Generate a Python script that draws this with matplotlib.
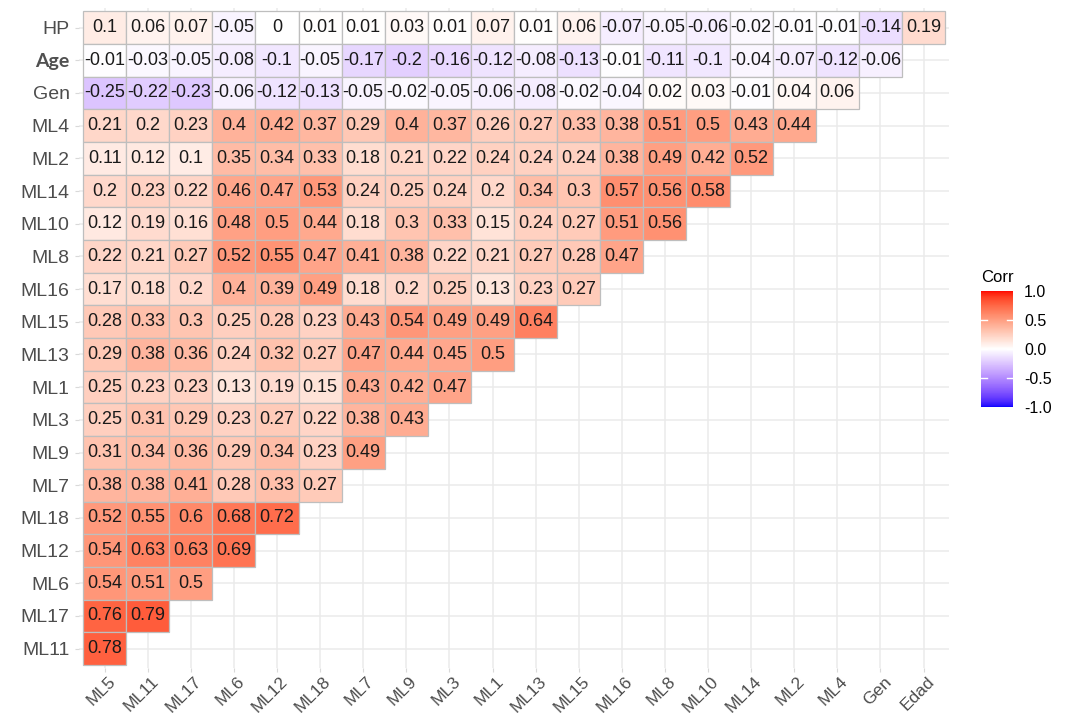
import numpy as np
import matplotlib
matplotlib.use("Agg")
import matplotlib.pyplot as plt
import matplotlib.transforms as mtransforms
from matplotlib.colors import ListedColormap, Normalize
from matplotlib.patches import Rectangle
from matplotlib.cm import ScalarMappable
from matplotlib.font_manager import FontProperties

plt.rcParams['font.family'] = ['Liberation Sans', 'DejaVu Sans']

# column order (left to right) and row order (top to bottom)
col_labels = ["ML5", "ML11", "ML17", "ML6", "ML12", "ML18", "ML7", "ML9", "ML3", "ML1",
              "ML13", "ML15", "ML16", "ML8", "ML10", "ML14", "ML2", "ML4", "Gen", "Edad"]
row_labels = ["HP", "Age", "Gen", "ML4", "ML2", "ML14", "ML10", "ML8", "ML16", "ML15",
              "ML13", "ML1", "ML3", "ML9", "ML7", "ML18", "ML12", "ML6", "ML17", "ML11"]

hp = [0.1, 0.06, 0.07, -0.05, 0, 0.01, 0.01, 0.03, 0.01, 0.07,
      0.01, 0.06, -0.07, -0.05, -0.06, -0.02, -0.01, -0.01, -0.14, 0.19]
age = [-0.01, -0.03, -0.05, -0.08, -0.1, -0.05, -0.17, -0.2, -0.16, -0.12,
       -0.08, -0.13, -0.01, -0.11, -0.1, -0.04, -0.07, -0.12, -0.06]
gen = [-0.25, -0.22, -0.23, -0.06, -0.12, -0.13, -0.05, -0.02, -0.05, -0.06,
       -0.08, -0.02, -0.04, 0.02, 0.03, -0.01, 0.04, 0.06]
ml4 = [0.21, 0.2, 0.23, 0.4, 0.42, 0.37, 0.29, 0.4, 0.37, 0.26, 0.27, 0.33, 0.38, 0.51, 0.5, 0.43, 0.44]
ml2 = [0.11, 0.12, 0.1, 0.35, 0.34, 0.33, 0.18, 0.21, 0.22, 0.24, 0.24, 0.24, 0.38, 0.49, 0.42, 0.52]
ml14 = [0.2, 0.23, 0.22, 0.46, 0.47, 0.53, 0.24, 0.25, 0.24, 0.2, 0.34, 0.3, 0.57, 0.56, 0.58]
ml10 = [0.12, 0.19, 0.16, 0.48, 0.5, 0.44, 0.18, 0.3, 0.33, 0.15, 0.24, 0.27, 0.51, 0.56]
ml8 = [0.22, 0.21, 0.27, 0.52, 0.55, 0.47, 0.41, 0.38, 0.22, 0.21, 0.27, 0.28, 0.47]
ml16 = [0.17, 0.18, 0.2, 0.4, 0.39, 0.49, 0.18, 0.2, 0.25, 0.13, 0.23, 0.27]
ml15 = [0.28, 0.33, 0.3, 0.25, 0.28, 0.23, 0.43, 0.54, 0.49, 0.49, 0.64]
ml13 = [0.29, 0.38, 0.36, 0.24, 0.32, 0.27, 0.47, 0.44, 0.45, 0.5]
ml1 = [0.25, 0.23, 0.23, 0.13, 0.19, 0.15, 0.43, 0.42, 0.47]
ml3 = [0.25, 0.31, 0.29, 0.23, 0.27, 0.22, 0.38, 0.43]
ml9 = [0.31, 0.34, 0.36, 0.29, 0.34, 0.23, 0.49]
ml7 = [0.38, 0.38, 0.41, 0.28, 0.33, 0.27]
ml18 = [0.52, 0.55, 0.6, 0.68, 0.72]
ml12 = [0.54, 0.63, 0.63, 0.69]
ml6 = [0.54, 0.51, 0.5]
ml17 = [0.76, 0.79]
ml11 = [0.78]

rows = [hp, age, gen, ml4, ml2, ml14, ml10, ml8, ml16, ml15,
        ml13, ml1, ml3, ml9, ml7, ml18, ml12, ml6, ml17, ml11]


# ggplot's gradient2 blends in CIELAB, so build the ramp the same way
M = np.array([[0.4124564, 0.3575761, 0.1804375],
              [0.2126729, 0.7151522, 0.0721750],
              [0.0193339, 0.1191920, 0.9503041]])
WHITE = np.array([0.95047, 1.0, 1.08883])


def to_lab(rgb):
    c = np.asarray(rgb, float)
    lin = np.where(c <= 0.04045, c / 12.92, ((c + 0.055) / 1.055) ** 2.4)
    xyz = M @ lin / WHITE
    d = 6 / 29
    f = np.where(xyz > d ** 3, np.cbrt(xyz), xyz / (3 * d * d) + 4 / 29)
    return np.array([116 * f[1] - 16, 500 * (f[0] - f[1]), 200 * (f[1] - f[2])])


def from_lab(lab):
    L, a, b = lab
    fy = (L + 16) / 116
    f = np.array([fy + a / 500, fy, fy - b / 200])
    d = 6 / 29
    xyz = np.where(f > d, f ** 3, 3 * d * d * (f - 4 / 29)) * WHITE
    lin = np.linalg.solve(M, xyz)
    lin = np.clip(lin, 0, 1)
    c = np.where(lin <= 0.0031308, 12.92 * lin, 1.055 * lin ** (1 / 2.4) - 0.055)
    return np.clip(c, 0, 1)


lab_blue = to_lab([0, 0, 1])
lab_white = to_lab([1, 1, 1])
lab_red = to_lab([1, 0, 0])
ramp = []
for t in np.linspace(-1, 1, 257):
    if t < 0:
        lab = lab_white + (lab_blue - lab_white) * (-t)
    else:
        lab = lab_white + (lab_red - lab_white) * t
    ramp.append(from_lab(lab))
cmap = ListedColormap(ramp)
norm = Normalize(-1, 1)

fig = plt.figure(figsize=(10.67, 7.13), dpi=100)
ax = fig.add_axes([0.0738, 0.0628, 0.816, 0.926])

n = len(row_labels)
for i, vals in enumerate(rows):
    y = n - 1 - i
    for j, v in enumerate(vals):
        ax.add_patch(Rectangle((j - 0.5, y - 0.5), 1, 1, facecolor=cmap(norm(v)),
                               edgecolor='#BEBEBE', linewidth=0.9, zorder=2))
        ax.text(j, y, f"{v:g}", ha='center', va='center', fontsize=13,
                color='#1A1A1A', zorder=3)

ax.set_xlim(-0.6, len(col_labels) - 0.4)
ax.set_ylim(-0.6, n - 0.4)
ax.set_xticks(range(len(col_labels)))
ax.set_yticks(range(n))
ax.set_yticklabels(row_labels[::-1], fontsize=14, color='#4D4D4D')
ax.set_xticklabels(col_labels, fontsize=12.5, color='#4D4D4D', rotation=45,
                   ha='right', va='top', rotation_mode='anchor')
ax.tick_params(length=3, color='#D9D9D9')
ax.tick_params(axis='x', pad=1)
shift = mtransforms.ScaledTranslation(3 / 100, 0, fig.dpi_scale_trans)
for lab in ax.get_xticklabels():
    lab.set_transform(lab.get_transform() + shift)
# the "Age" label is set in a different face in the original
for lab in ax.get_yticklabels():
    if lab.get_text() == "Age":
        lab.set_fontproperties(FontProperties(family=['Lato', 'DejaVu Sans'],
                                              weight='bold', size=14))
        lab.set_color('#505050')
ax.grid(True, color='#EBEBEB', linewidth=1.1, zorder=0)
ax.set_axisbelow(True)
for s in ax.spines.values():
    s.set_visible(False)

# colour legend
cax = fig.add_axes([981 / 1067, 1 - 407 / 713, 32 / 1067, 116 / 713])
cb = fig.colorbar(ScalarMappable(norm=norm, cmap=cmap), cax=cax)
cb.outline.set_visible(False)
cb.set_ticks([-1, -0.5, 0, 0.5, 1])
cb.set_ticklabels(["-1.0", "-0.5", "0.0", "0.5", "1.0"])
cax.tick_params(length=0, labelsize=11.5, pad=8)
for t in [-0.5, 0, 0.5]:
    cax.plot([0, 0.2], [t, t], color='white', lw=1)
    cax.plot([0.8, 1], [t, t], color='white', lw=1)
fig.text(981 / 1067, 1 - 278 / 713, "Corr", fontsize=12, va='center', ha='left')

fig.savefig("out.png", dpi=100)
